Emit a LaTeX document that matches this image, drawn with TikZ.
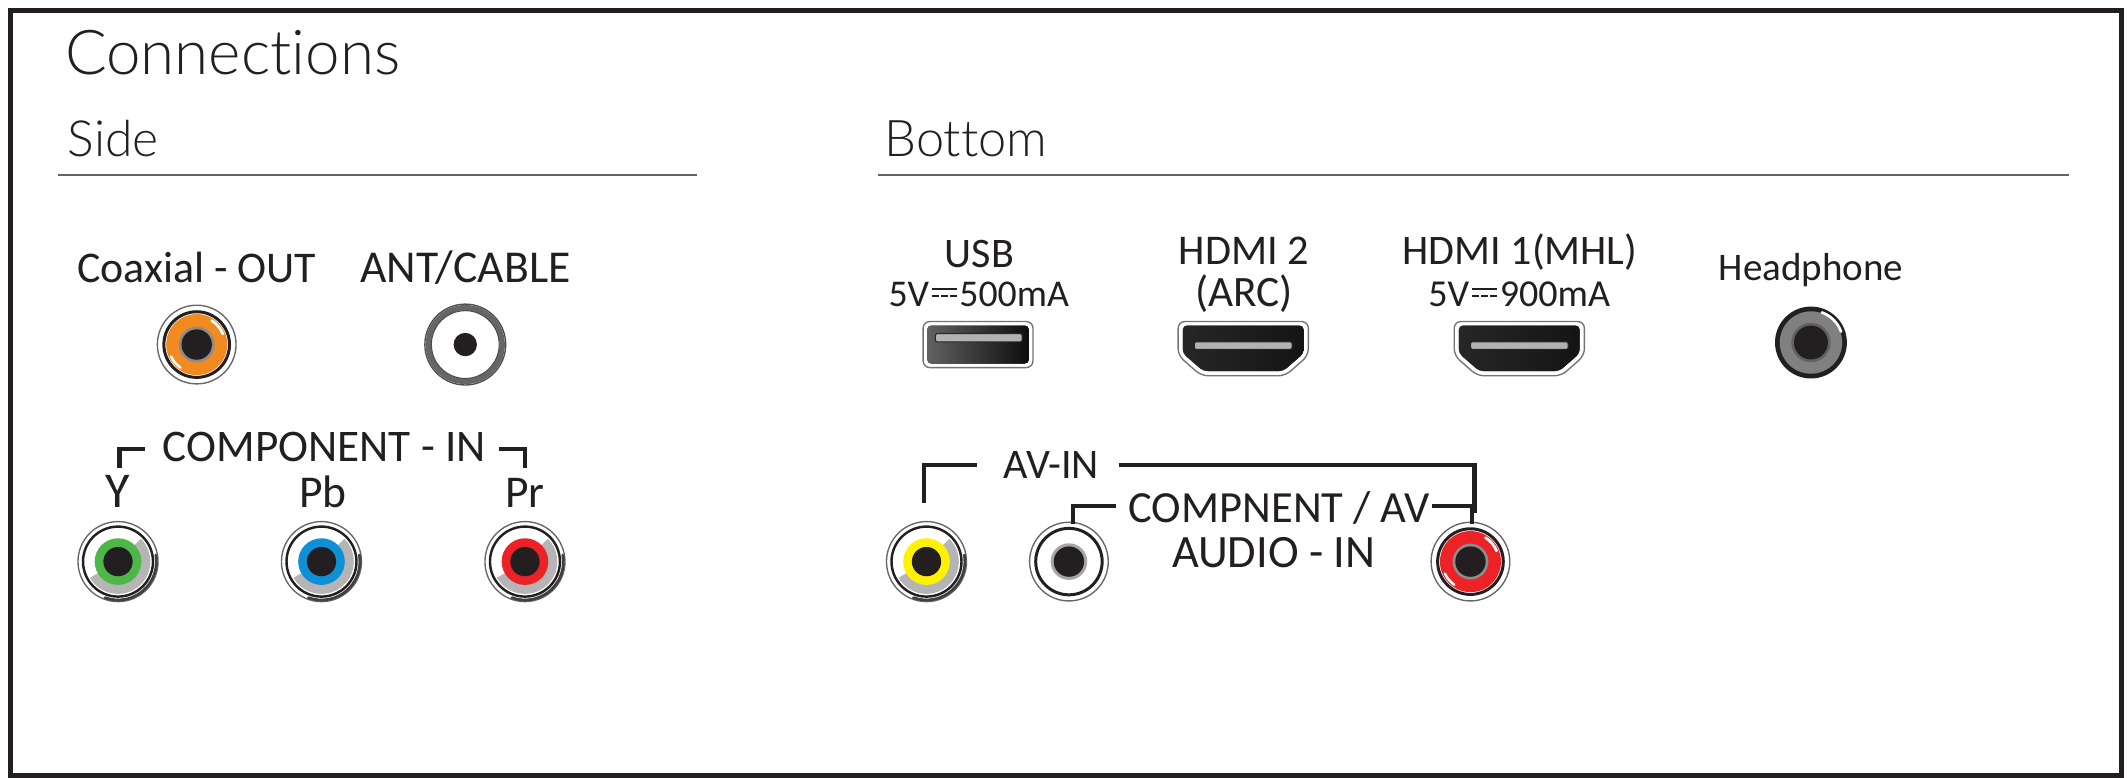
\documentclass[tikz,border=0pt]{standalone}
\usepackage{fontspec}
\usepackage{graphicx}
\setmainfont{Carlito}[Ligatures=NoCommon]
\newfontfamily\lightf{Lato Light}[Ligatures=NoCommon]
\definecolor{ink}{HTML}{231F20}
\definecolor{jgray}{HTML}{B5B5B5}
\definecolor{jorange}{HTML}{F18A21}
\definecolor{jgreen}{HTML}{4DB748}
\definecolor{jblue}{HTML}{0F8FD6}
\definecolor{jred}{HTML}{EC2227}
\definecolor{jyellow}{HTML}{FFF200}
\newlength\fitw
\newcommand\fitto[2]{\setlength\fitw{#1pt}\resizebox{0.5\fitw}{!}{#2}}
\newcommand\dcsym{\hspace{.07em}\rlap{\rule[.44em]{.66em}{.06em}}\rule[.25em]{.18em}{.06em}\hspace{.06em}\rule[.25em]{.18em}{.06em}\hspace{.06em}\rule[.25em]{.18em}{.06em}\hspace{.07em}}
\tikzset{
  x=0.5pt,y=-0.5pt,
  lbl/.style={anchor=base,inner sep=0pt,outer sep=0pt,text=ink},
  bracket/.style={draw=ink,line width=1.6pt,line cap=butt,line join=miter},
  rulegray/.style={draw=ink!70,line width=0.45pt},
  pics/rca/.style={code={
    \fill[white] (0,0) circle (30);
    \draw[black!60,line width=0.5pt] (0,0) circle (29.5);
    \draw[black!75,line width=1pt,line cap=round] (-10:28.3) arc (-10:110:28.3);
    \draw[ink,line width=0.9pt] (0,0) circle (25.8);
    \fill[jgray] (0,0) -- (-45:23.8) arc (-45:150:23.8) -- cycle;
    \fill[#1] (0,0) circle (17.2);
    \fill[ink] (0,0) circle (10.8);
  }},
  pics/solidrca/.style={code={
    \fill[white] (0,0) circle (30);
    \draw[black!60,line width=0.5pt] (0,0) circle (29);
    \draw[ink,line width=1.1pt] (0,0) circle (24.2);
    \fill[#1] (0,0) circle (22.5);
    \draw[white,line width=1pt,line cap=round] (-58:20.8) arc (-58:-22:20.8);
    \draw[white,line width=0.9pt,line cap=round] (155:20.8) arc (155:125:20.8);
    \fill[black!45] (0,0) circle (13.2);
    \fill[ink] (0,0) circle (11.2);
  }},
  pics/whitejack/.style={code={
    \draw[black!60,line width=0.5pt] (0,0) circle (29);
    \draw[ink,line width=1.1pt] (0,0) circle (24.5);
    \fill[black!35] (0,0) circle (13.5);
    \fill[ink] (0,0) circle (11.2);
  }},
  pics/antjack/.style={code={
    \draw[ink!80,line width=0.5pt] (0,0) circle (29.8);
    \draw[black!60,line width=2pt] (0,0) circle (27.2);
    \draw[ink!80,line width=0.4pt] (0,0) circle (25);
    \fill[ink] (0,0) circle (8.6);
  }},
  pics/phonejack/.style={code={
    \fill[ink] (0,0) circle (26.5);
    \fill[black!50] (0,0) circle (23);
    \draw[white,line width=1pt,line cap=round] (-70:23.6) arc (-70:-20:23.6);
    \fill[black!62] (0,0) circle (14.5);
    \fill[ink] (0,0) circle (12.5);
  }},
  usbbody/.style={draw=black!55,line width=0.5pt,fill=white,rounded corners=2.5pt},
  usbcore/.style={left color=black!62,right color=black!95,rounded corners=1.5pt},
  hdmicore/.style={left color=black!85,middle color=black!62,right color=black!92,rounded corners=1.5pt},
  slotbar/.style={fill=black!30,draw=black!85,line width=0.4pt,rounded corners=0.5pt},
  pics/hdmi/.style={code={
    \draw[usbbody] (0,0) -- (96,0) -- (96,25) -- (79,40) -- (17,40) -- (0,25) -- cycle;
    \fill[hdmicore] (3.5,3) -- (92.5,3) -- (92.5,23.5) -- (77.5,36.5) -- (18.5,36.5) -- (3.5,23.5) -- cycle;
    \fill[slotbar] (12,15) rectangle (84,20.5);
  }},
  pics/usbport/.style={code={
    \draw[usbbody] (0,0) rectangle (81,34);
    \fill[usbcore] (3,3) rectangle (78,31);
    \fill[slotbar] (9,9) rectangle (73,15);
  }},
}
\begin{document}
\begin{tikzpicture}
\useasboundingbox (0,0) rectangle (1568,572.8);
\fill[white] (0,0) rectangle (1568,572.8);
\node[draw=ink,line width=1.75pt,inner sep=0pt,minimum width=778pt,minimum height=282pt,anchor=north west] (frame) at (6,6) {};

% Headings
\node[lbl] (tconn) at (171.5,55) {\fitto{247}{\lightf Connections}};
\node[lbl] (tside) at (83.5,115) {\fitto{67}{\lightf Side}};
\node[lbl] (tbottom) at (712,115) {\fitto{120}{\lightf Bottom}};
\coordinate (r1a) at (43,129); \coordinate (r1b) at (514,129);
\coordinate (r2a) at (647,129); \coordinate (r2b) at (1525,129);
\draw[rulegray] (r1a) -- (r1b);
\draw[rulegray] (r2a) -- (r2b);

% Side labels
\node[lbl] (tcoax) at (145,208) {\fitto{176}{Coaxial - OUT}};
\node[lbl] (tant) at (343,208) {\fitto{155}{ANT/CABLE}};
\node[lbl] (tcomp) at (239,340) {\fitto{238}{COMPONENT - IN}};
\node[lbl] (ty) at (87,374) {\fitto{18}{Y}};
\node[lbl] (tpb) at (238,374) {\fitto{35}{Pb}};
\node[lbl] (tpr) at (387,374) {\fitto{29}{Pr}};

% Side jacks
\pic (jcoax) at (145,254) {solidrca=jorange};
\pic (jant) at (343,254) {antjack};
\pic (jy) at (87,414) {rca=jgreen};
\pic (jpb) at (237,414) {rca=jblue};
\pic (jpr) at (387,414) {rca=jred};

% Component brackets
\coordinate (c1) at (88,345); \coordinate (c2) at (107,331);
\coordinate (c3) at (368,331); \coordinate (c4) at (387,345);
\draw[bracket] (c1) |- (c2);
\draw[bracket] (c3) -| (c4);

% Bottom labels
\node[lbl] (tusb) at (722,197) {\fitto{51}{USB}};
\node[lbl] (tusbv) at (721.5,226) {\fitto{133}{5V\dcsym 500mA}};
\node[lbl] (thd2) at (917,195) {\fitto{96}{HDMI 2}};
\node[lbl] (tarc) at (917,226) {\fitto{72}{(ARC)}};
\node[lbl] (thd1) at (1120.5,195) {\fitto{173}{HDMI 1(MHL)}};
\node[lbl] (thdv) at (1120,226) {\fitto{134}{5V\dcsym 900mA}};
\node[lbl] (thead) at (1335,207) {\fitto{136}{Headphone}};

% Bottom ports
\pic (pusb) at (680.5,237) {usbport};
\pic (phd2) at (868.5,237) {hdmi};
\pic (phd1) at (1072,237) {hdmi};
\pic (jhead) at (1335,252.5) {phonejack};

% AV
\pic (jyel) at (683,414) {rca=jyellow};
\pic (jwht) at (788,414) {whitejack};
\pic (jred) at (1084,414) {solidrca=jred};
\node[lbl] (tav) at (775,353) {\fitto{70}{AV-IN}};
\node[lbl] (tcav) at (943,385) {\fitto{222}{COMPNENT / AV}};
\node[lbl] (taud) at (939,418) {\fitto{150}{AUDIO - IN}};
\coordinate (a1) at (681,371); \coordinate (a2) at (720,343);
\coordinate (a3) at (825,343); \coordinate (a4) at (1087,378);
\coordinate (b1) at (791,386); \coordinate (b2) at (823,373);
\coordinate (b3) at (1056,373); \coordinate (b4) at (1085,386);
\draw[bracket] (a1) |- (a2);
\draw[bracket] (a3) -| (a4);
\draw[bracket] (b1) |- (b2);
\draw[bracket] (b3) -| (b4);
\end{tikzpicture}
\end{document}
